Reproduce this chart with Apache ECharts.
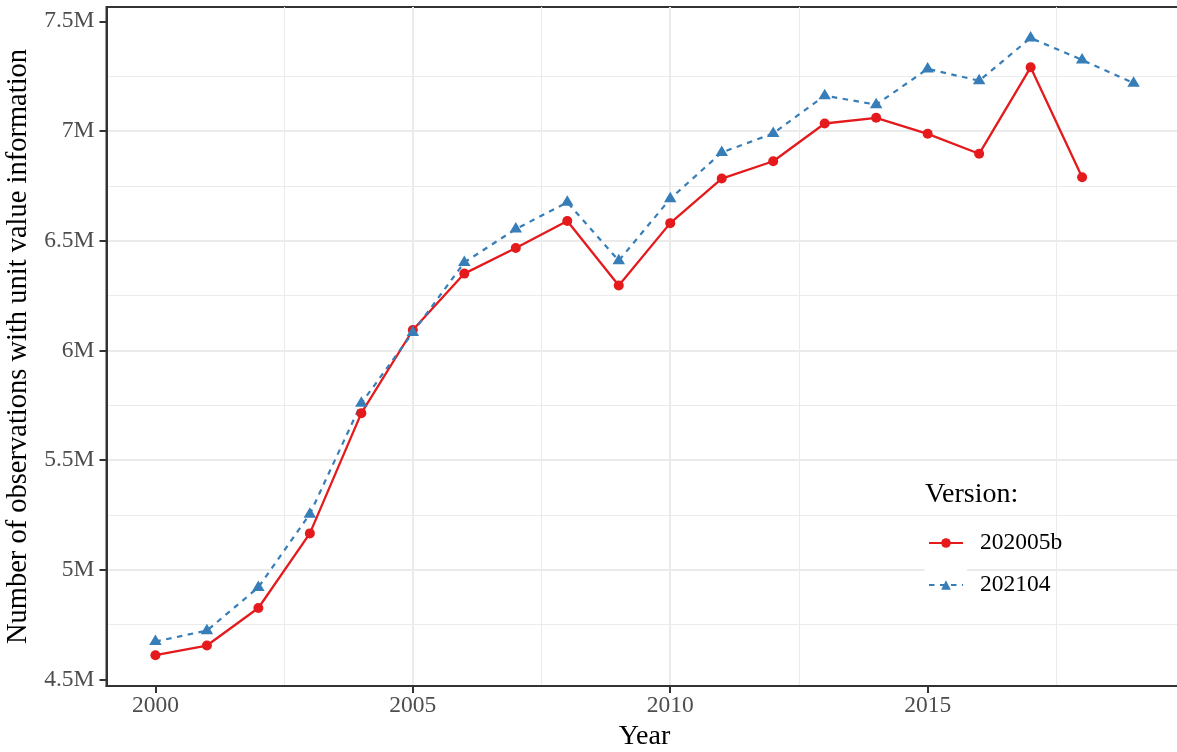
<!DOCTYPE html>
<html><head><meta charset="utf-8">
<script src="https://cdn.jsdelivr.net/npm/echarts@6/dist/echarts.min.js"></script>
<style>html,body{margin:0;padding:0;background:#fff}#chart{width:1177px;height:752px}</style>
</head><body><div id="chart"></div>
<script>
// ---- data (values in millions of observations) ----
const years = [2000,2001,2002,2003,2004,2005,2006,2007,2008,2009,2010,2011,2012,2013,2014,2015,2016,2017,2018,2019];
const seriesNames = ['202005b', '202104'];
const v202005b = [4.611,4.655,4.826,5.166,5.714,6.093,6.350,6.467,6.590,6.296,6.580,6.783,6.862,7.034,7.060,6.987,6.896,7.290,6.789];
const v202104  = [4.673,4.723,4.920,5.254,5.759,6.082,6.401,6.553,6.675,6.409,6.691,6.902,6.989,7.161,7.120,7.283,7.229,7.424,7.324,7.218];
const xTicks = [2000, 2005, 2010, 2015];
const yTicks = [4.5, 5, 5.5, 6, 6.5, 7, 7.5];
const legendTitle = 'Version:';
const xTitle = 'Year';
const yTitle = 'Number of observations with unit value information';

const FONT = 'Liberation Serif';
const pairs = vals => vals.map((v, i) => [years[i], v]);

const chart = echarts.init(document.getElementById('chart'), null, {renderer: 'canvas'});
const axisCommon = {
  type: 'value',
  splitNumber: 5,
  axisLine: {show: true, onZero: false, lineStyle: {color: '#333333', width: 2}},
  splitLine: {show: true, showMinLine: false, showMaxLine: false, lineStyle: {color: '#EBEBEB', width: 2}},
  minorTick: {show: false, splitNumber: 2},
  minorSplitLine: {show: true, lineStyle: {color: '#EBEBEB', width: 1.1}},
  nameLocation: 'middle',
  nameTextStyle: {fontFamily: FONT, fontSize: 28, color: '#000'}
};
chart.setOption({
  animation: false,
  backgroundColor: '#fff',
  grid: {left: 106.5, top: 7, width: 1076, height: 679, containLabel: false, outerBoundsMode: 'none',
         show: true, borderColor: '#333333', borderWidth: 2, backgroundColor: 'transparent'},
  title: {text: legendTitle, left: 925, top: 481, padding: 0,
          textStyle: {fontFamily: FONT, fontSize: 28, fontWeight: 'normal', color: '#000'}},
  legend: {
    data: seriesNames, orient: 'vertical', left: 928, top: 529, padding: 0,
    itemWidth: 34, itemHeight: 12, itemGap: 14, selectedMode: false,
    textStyle: {fontFamily: FONT, fontSize: 23.5, color: '#000', lineHeight: 28, padding: [0, 0, 0, 12]}
  },
  graphic: [{type: 'rect', left: 924.5, top: 522, z: 1,
             shape: {width: 42.5, height: 83}, style: {fill: '#ffffff'}}],
  xAxis: Object.assign({}, axisCommon, {
    min: 1999.05, max: 2019.95,
    name: xTitle, nameGap: 36,
    axisTick: {show: true, length: 7, customValues: xTicks, lineStyle: {color: '#333333', width: 2}},
    axisLabel: {customValues: xTicks, margin: 8, color: '#4D4D4D', fontFamily: FONT, fontSize: 23.5,
                formatter: v => String(v)}
  }),
  yAxis: Object.assign({}, axisCommon, {
    min: 4.4705, max: 7.565,
    name: yTitle, nameGap: 65,
    nameTextStyle: {fontFamily: FONT, fontSize: 28.5, color: '#000'},
    axisTick: {show: true, length: 7, customValues: yTicks, lineStyle: {color: '#333333', width: 2}},
    axisLabel: {customValues: yTicks, margin: 12, color: '#4D4D4D', fontFamily: FONT, fontSize: 23.5,
                formatter: v => v + 'M'}
  }),
  series: [
    {type: 'line', name: seriesNames[0], data: pairs(v202005b), symbol: 'circle', symbolSize: 10,
     lineStyle: {color: '#E41A1C', width: 2.3}, itemStyle: {color: '#E41A1C'}, emphasis: {disabled: true}},
    {type: 'line', name: seriesNames[1], data: pairs(v202104), symbol: 'triangle', symbolSize: [12.5, 10.5],
     symbolOffset: [0, -1.7],
     lineStyle: {color: '#377EB8', width: 2.2, type: [5.5, 5.5]}, itemStyle: {color: '#377EB8'}, emphasis: {disabled: true}}
  ]
});
</script></body></html>
